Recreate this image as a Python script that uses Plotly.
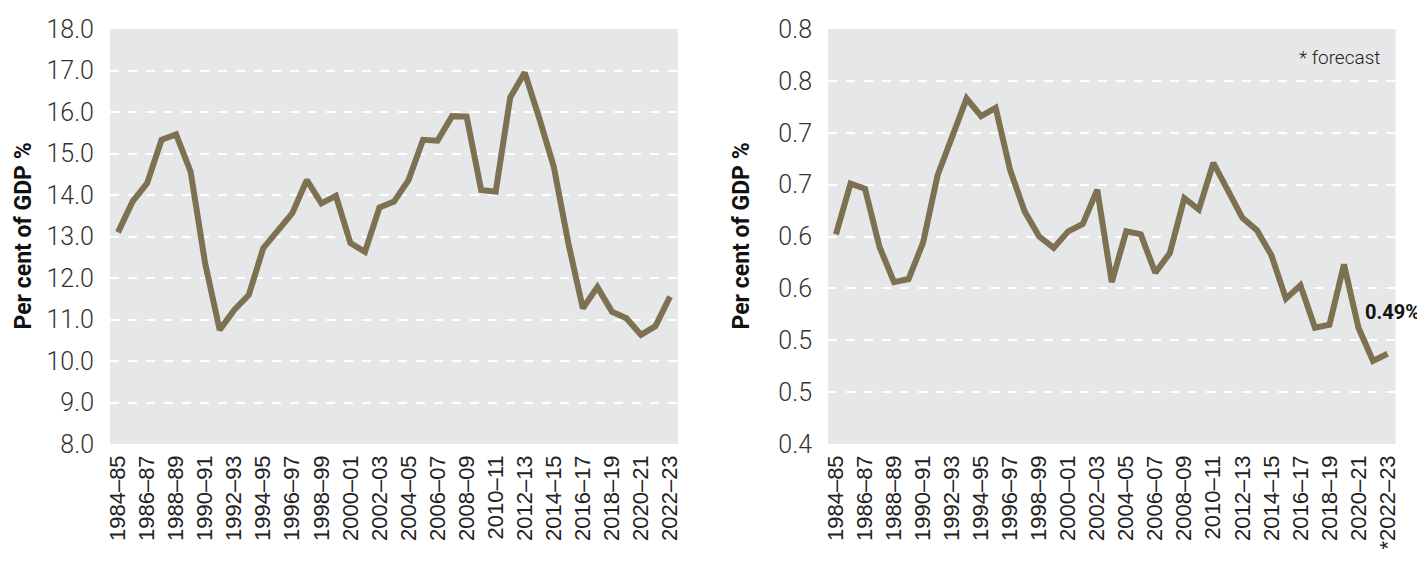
import plotly.graph_objects as go

# ---------------- data ----------------
years = ["1984–85", "1985–86", "1986–87", "1987–88", "1988–89", "1989–90", "1990–91",
         "1991–92", "1992–93", "1993–94", "1994–95", "1995–96", "1996–97", "1997–98",
         "1998–99", "1999–00", "2000–01", "2001–02", "2002–03", "2003–04", "2004–05",
         "2005–06", "2006–07", "2007–08", "2008–09", "2009–10", "2010–11", "2011–12",
         "2012–13", "2013–14", "2014–15", "2015–16", "2016–17", "2017–18", "2018–19",
         "2019–20", "2020–21", "2021–22", "2022–23"]

left_values = [13.10, 13.84, 14.28, 15.33, 15.46, 14.56, 12.35, 10.75, 11.23, 11.59,
               12.72, 13.16, 13.56, 14.36, 13.80, 13.98, 12.84, 12.63, 13.70, 13.84,
               14.36, 15.33, 15.31, 15.90, 15.89, 14.12, 14.08, 16.35, 16.95, 15.85,
               14.68, 12.84, 11.27, 11.78, 11.19, 11.03, 10.63, 10.84, 11.55]

right_values = [0.602, 0.651, 0.646, 0.590, 0.556, 0.559, 0.594, 0.659, 0.696, 0.733,
                0.716, 0.724, 0.664, 0.624, 0.600, 0.589, 0.605, 0.612, 0.645, 0.556,
                0.605, 0.602, 0.565, 0.584, 0.637, 0.626, 0.671, 0.645, 0.618, 0.606,
                0.582, 0.540, 0.553, 0.512, 0.515, 0.573, 0.512, 0.480, 0.487]

left_tickvals = [8, 9, 10, 11, 12, 13, 14, 15, 16, 17, 18]
right_tickvals = [0.40, 0.45, 0.50, 0.55, 0.60, 0.65, 0.70, 0.75, 0.80]
right_ticktext = ["0.4", "0.5", "0.5", "0.6", "0.6", "0.7", "0.7", "0.8", "0.8"]

x_labels_left = [y for i, y in enumerate(years) if i % 2 == 0]
x_labels_right = x_labels_left[:-1] + ["*" + x_labels_left[-1]]

y_title = "Per cent of GDP %"
forecast_note = "* forecast"
last_label = "0.49%"

# ---------------- styling ----------------
LINE = "#7d7152"
BG = "#e6e7e9"
OFF = 8                      # page body margin of the browser
W, H = 1425 - OFF, 565 - OFF
TICKFONT = dict(family="Roboto", size=25, color="#333333", weight=300)
XFONT = dict(family="Liberation Sans", size=22, color="#222222")


def px_x(p):
    return (p - OFF) / W


def px_y(p):
    return 1 - (p - OFF) / H


ydom = [px_y(444), px_y(29)]
xdom1 = [px_x(110), px_x(678)]
xdom2 = [px_x(828), px_x(1395.5)]

idx = list(range(len(years)))
even_idx = [i for i in idx if i % 2 == 0]

fig = go.Figure()
fig.add_trace(go.Scatter(x=idx, y=left_values, mode="lines",
                         line=dict(color=LINE, width=6), xaxis="x", yaxis="y",
                         hoverinfo="skip"))
fig.add_trace(go.Scatter(x=idx, y=right_values, mode="lines",
                         line=dict(color=LINE, width=6), xaxis="x2", yaxis="y2",
                         hoverinfo="skip"))

xcommon = dict(range=[-0.55, len(years) - 1 + 0.55], tickmode="array",
               tickvals=even_idx, tickangle=-90, tickfont=XFONT,
               showgrid=False, zeroline=False, showline=False, ticks="",
               automargin=False, ticklabelstandoff=6)
ycommon = dict(tickmode="array", showgrid=True, gridcolor="white", gridwidth=1.5,
               griddash="dash", zeroline=False, showline=False, ticks="",
               tickfont=TICKFONT, automargin=False, ticklabelstandoff=15)

fig.update_layout(
    width=W, height=H,
    margin=dict(l=0, r=0, t=0, b=0),
    paper_bgcolor="white", plot_bgcolor=BG,
    showlegend=False,
    xaxis=dict(domain=xdom1, ticktext=x_labels_left, anchor="y", **xcommon),
    xaxis2=dict(domain=xdom2, ticktext=x_labels_right, anchor="y2", **xcommon),
    yaxis=dict(domain=ydom, range=[8, 18], tickvals=left_tickvals,
               tickformat=".1f", anchor="x", **ycommon),
    yaxis2=dict(domain=ydom, range=[0.4, 0.8], tickvals=right_tickvals,
                ticktext=right_ticktext, anchor="x2", **ycommon),
)

title_font = dict(family="Roboto", size=23, color="#111111", weight=700)
fig.add_annotation(text=y_title, xref="paper", yref="paper", x=px_x(23),
                   y=(ydom[0] + ydom[1]) / 2, textangle=-90, showarrow=False,
                   font=title_font, xanchor="center", yanchor="middle")
fig.add_annotation(text=y_title, xref="paper", yref="paper", x=px_x(741),
                   y=(ydom[0] + ydom[1]) / 2, textangle=-90, showarrow=False,
                   font=title_font, xanchor="center", yanchor="middle")
fig.add_annotation(text=forecast_note, xref="paper", yref="paper", x=px_x(1382),
                   y=px_y(57), showarrow=False, xanchor="right", yanchor="middle",
                   font=dict(family="Roboto", size=19, color="#222222", weight=300))
fig.add_annotation(text="<b>" + last_label + "</b>", xref="paper", yref="paper",
                   x=px_x(1364), y=px_y(312), showarrow=False, xanchor="left",
                   yanchor="middle", borderpad=0,
                   font=dict(family="Roboto", size=20, color="#111111"))

fig.write_html("out.html")
